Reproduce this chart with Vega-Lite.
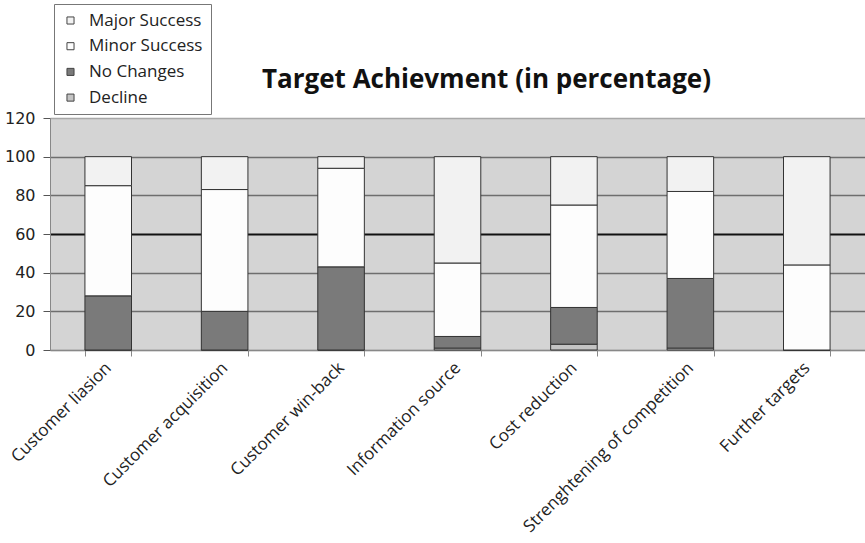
{
  "$schema": "https://vega.github.io/schema/vega-lite/v6.json",
  "autosize": "none",
  "padding": {"left": 50, "top": 118, "right": 0, "bottom": 193},
  "width": 815,
  "height": 232,
  "background": "white",
  "view": {"fill": "#d4d4d4", "stroke": null},
  "title": {
    "text": "Target Achievment (in percentage)",
    "font": "Open Sans",
    "fontSize": 26,
    "fontWeight": "bold",
    "color": "#111",
    "anchor": "middle",
    "baseline": "alphabetic",
    "dx": 29,
    "offset": -110
  },
  "data": {
    "values": [
      {"target": "Customer liasion", "result": "Decline", "rank": 1, "pct": 0},
      {"target": "Customer liasion", "result": "No Changes", "rank": 2, "pct": 28},
      {"target": "Customer liasion", "result": "Minor Success", "rank": 3, "pct": 57},
      {"target": "Customer liasion", "result": "Major Success", "rank": 4, "pct": 15},
      {"target": "Customer acquisition", "result": "Decline", "rank": 1, "pct": 0},
      {"target": "Customer acquisition", "result": "No Changes", "rank": 2, "pct": 20},
      {"target": "Customer acquisition", "result": "Minor Success", "rank": 3, "pct": 63},
      {"target": "Customer acquisition", "result": "Major Success", "rank": 4, "pct": 17},
      {"target": "Customer win-back", "result": "Decline", "rank": 1, "pct": 0},
      {"target": "Customer win-back", "result": "No Changes", "rank": 2, "pct": 43},
      {"target": "Customer win-back", "result": "Minor Success", "rank": 3, "pct": 51},
      {"target": "Customer win-back", "result": "Major Success", "rank": 4, "pct": 6},
      {"target": "Information source", "result": "Decline", "rank": 1, "pct": 1},
      {"target": "Information source", "result": "No Changes", "rank": 2, "pct": 6},
      {"target": "Information source", "result": "Minor Success", "rank": 3, "pct": 38},
      {"target": "Information source", "result": "Major Success", "rank": 4, "pct": 55},
      {"target": "Cost reduction", "result": "Decline", "rank": 1, "pct": 3},
      {"target": "Cost reduction", "result": "No Changes", "rank": 2, "pct": 19},
      {"target": "Cost reduction", "result": "Minor Success", "rank": 3, "pct": 53},
      {"target": "Cost reduction", "result": "Major Success", "rank": 4, "pct": 25},
      {"target": "Strenghtening of competition", "result": "Decline", "rank": 1, "pct": 1},
      {"target": "Strenghtening of competition", "result": "No Changes", "rank": 2, "pct": 36},
      {"target": "Strenghtening of competition", "result": "Minor Success", "rank": 3, "pct": 45},
      {"target": "Strenghtening of competition", "result": "Major Success", "rank": 4, "pct": 18},
      {"target": "Further targets", "result": "Decline", "rank": 1, "pct": 0},
      {"target": "Further targets", "result": "No Changes", "rank": 2, "pct": 0},
      {"target": "Further targets", "result": "Minor Success", "rank": 3, "pct": 44},
      {"target": "Further targets", "result": "Major Success", "rank": 4, "pct": 56}
    ]
  },
  "mark": {"type": "bar", "stroke": "#333", "strokeWidth": 1},
  "encoding": {
    "x": {
      "field": "target",
      "type": "nominal",
      "sort": null,
      "scale": {"paddingInner": 0.6, "paddingOuter": 0.3},
      "axis": {
        "title": null,
        "labelAngle": -45,
        "labelAlign": "right",
        "labelBaseline": "middle",
        "labelFont": "Open Sans",
        "labelFontSize": 17,
        "labelLimit": 0,
        "labelColor": "#222",
        "labelPadding": 9,
        "tickBand": "extent",
        "tickColor": "#888",
        "tickSize": 6,
        "domainColor": "#888",
        "grid": false
      }
    },
    "y": {
      "field": "pct",
      "type": "quantitative",
      "stack": "zero",
      "scale": {"domain": [0, 120], "nice": false},
      "axis": {
        "title": null,
        "values": [0, 20, 40, 60, 80, 100, 120],
        "labelFont": "DejaVu Sans",
        "labelFontSize": 16,
        "labelColor": "#222",
        "labelPadding": 8,
        "tickColor": "#555",
        "tickSize": 7,
        "domainColor": "#888",
        "grid": true,
        "gridColor": {
          "condition": [
            {"test": "datum.value === 60", "value": "#111"},
            {"test": "datum.value === 120", "value": "#a8a8a8"}
          ],
          "value": "#6e6e6e"
        },
        "gridWidth": {
          "condition": {"test": "datum.value === 60", "value": 2},
          "value": 1.5
        }
      }
    },
    "order": {"field": "rank", "type": "quantitative"},
    "color": {
      "field": "result",
      "type": "nominal",
      "scale": {
        "domain": ["Major Success", "Minor Success", "No Changes", "Decline"],
        "range": ["#f2f2f2", "#fdfdfd", "#7a7a7a", "#c4c4c4"]
      },
      "legend": {
        "title": null,
        "orient": "none",
        "legendX": 4,
        "legendY": -114,
        "direction": "vertical",
        "symbolType": "square",
        "symbolSize": 50,
        "symbolStrokeColor": "#444",
        "symbolStrokeWidth": 1,
        "labelFont": "Open Sans",
        "labelFontSize": 17,
        "labelColor": "#222",
        "labelOffset": 10,
        "rowPadding": 7.7,
        "padding": 8,
        "fillColor": "white",
        "strokeColor": "#777"
      }
    }
  },
  "config": {"bar": {"discreteBandSize": null}}
}
